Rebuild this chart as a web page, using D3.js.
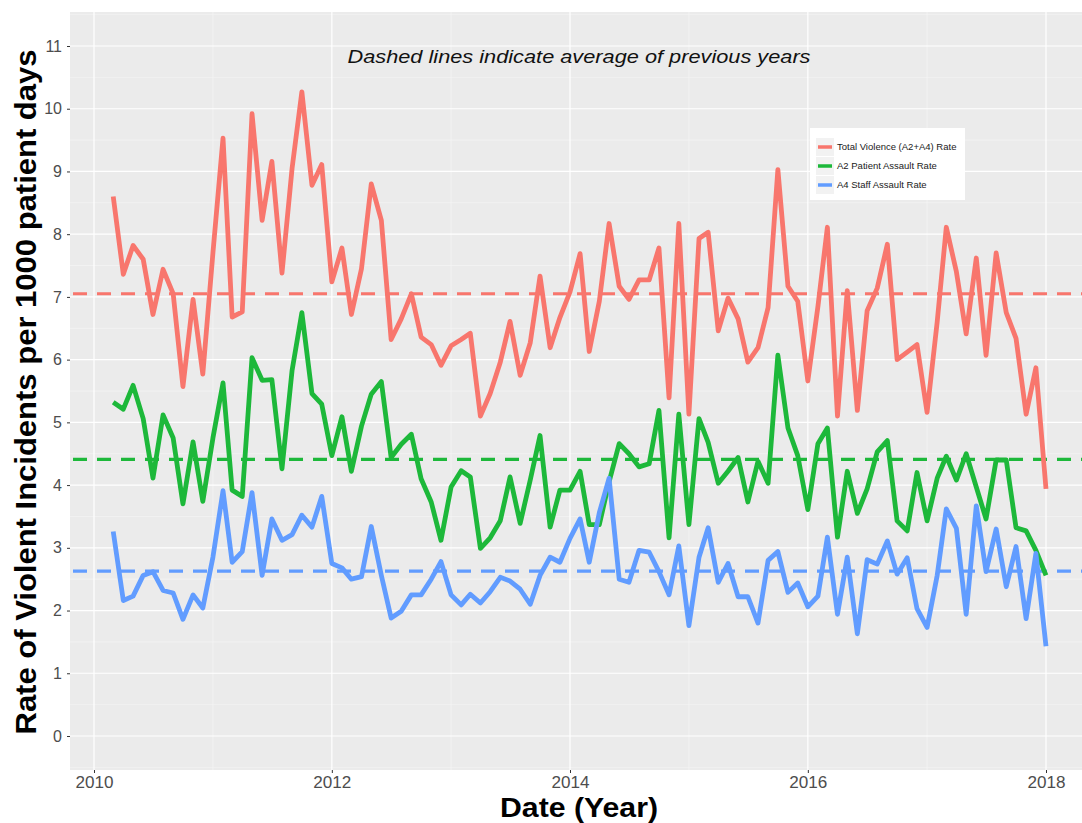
<!DOCTYPE html>
<html>
<head>
<meta charset="utf-8">
<script src="https://cdn.jsdelivr.net/npm/d3@7"></script>
<style>
  html, body { margin: 0; padding: 0; background: #ffffff; }
  svg { display: block; }
</style>
</head>
<body>
<svg id="chart" width="1082" height="823"></svg>
<script>
// ---------------- DATA ----------------
// Monthly observations, March 2010 .. January 2018
const firstMonth = "2010-03-01";
const lastMonth = "2018-01-01";

const totalRate = [
  8.60, 7.36, 7.82, 7.60, 6.72, 7.44, 7.05, 5.57, 6.96, 5.77,             // 2010 Mar-Dec
  7.70, 9.53, 6.68, 6.76, 9.92, 8.22, 9.16, 7.38, 9.05, 10.27, 8.78, 9.11, // 2011
  7.24, 7.78, 6.72, 7.45, 8.80, 8.22, 6.32, 6.65, 7.05, 6.36, 6.24, 5.91,  // 2012
  6.22, 6.32, 6.42, 5.10, 5.46, 5.96, 6.61, 5.75, 6.27, 7.33, 6.19, 6.67,  // 2013
  7.08, 7.69, 6.13, 6.93, 8.17, 7.17, 6.96, 7.27, 7.27, 7.78, 5.39, 8.17,  // 2014
  5.13, 7.93, 8.03, 6.46, 6.98, 6.65, 5.96, 6.19, 6.83, 9.03, 7.17, 6.93,  // 2015
  5.66, 6.85, 8.11, 5.10, 7.10, 5.19, 6.78, 7.14, 7.84, 6.00, 6.12, 6.24,  // 2016
  5.16, 6.60, 8.11, 7.40, 6.41, 7.62, 6.07, 7.70, 6.75, 6.34, 5.13, 5.87,  // 2017
  3.94                                                                     // 2018 Jan
];

const patientAssaultRate = [
  5.32, 5.21, 5.59, 5.06, 4.11, 5.12, 4.75, 3.70, 4.69, 3.74,
  4.75, 5.63, 3.92, 3.82, 6.03, 5.67, 5.68, 4.26, 5.83, 6.75, 5.46, 5.29,
  4.47, 5.09, 4.22, 4.94, 5.45, 5.65, 4.44, 4.65, 4.81, 4.10, 3.73, 3.12,
  3.97, 4.23, 4.13, 2.99, 3.16, 3.43, 4.13, 3.39, 4.08, 4.79, 3.33, 3.92,
  3.92, 4.22, 3.37, 3.37, 4.05, 4.66, 4.50, 4.29, 4.34, 5.19, 3.16, 5.13,
  3.37, 5.06, 4.68, 4.03, 4.22, 4.44, 3.73, 4.38, 4.03, 6.07, 4.91, 4.47,
  3.61, 4.66, 4.91, 3.17, 4.22, 3.55, 3.94, 4.53, 4.71, 3.43, 3.27, 4.20,
  3.43, 4.11, 4.46, 4.08, 4.50, 3.97, 3.46, 4.40, 4.40, 3.32, 3.27, 2.96,
  2.56
];

const staffAssaultRate = [
  3.26, 2.16, 2.23, 2.56, 2.62, 2.32, 2.28, 1.86, 2.25, 2.04,
  2.85, 3.91, 2.77, 2.94, 3.88, 2.56, 3.46, 3.12, 3.21, 3.52, 3.33, 3.82,
  2.75, 2.68, 2.50, 2.54, 3.34, 2.56, 1.88, 1.99, 2.25, 2.25, 2.50, 2.78,
  2.25, 2.09, 2.26, 2.12, 2.30, 2.53, 2.47, 2.34, 2.10, 2.56, 2.85, 2.77,
  3.15, 3.46, 2.77, 3.56, 4.11, 2.50, 2.45, 2.96, 2.93, 2.62, 2.25, 3.03,
  1.76, 2.85, 3.32, 2.45, 2.75, 2.22, 2.22, 1.80, 2.80, 2.94, 2.29, 2.44,
  2.06, 2.23, 3.17, 1.94, 2.85, 1.63, 2.81, 2.74, 3.11, 2.58, 2.84, 2.03,
  1.73, 2.56, 3.62, 3.31, 1.94, 3.67, 2.62, 3.30, 2.38, 3.02, 1.87, 2.91,
  1.43
];

// averages of previous years (dashed reference lines)
const averages = [7.05, 4.41, 2.63];

const seriesNames = [
  "Total Violence (A2+A4) Rate",
  "A2 Patient Assault Rate",
  "A4 Staff Assault Rate"
];
const seriesColors = ["#F8766D", "#1DB83A", "#619CFF"];

const xTickYears = [2010, 2012, 2014, 2016, 2018];
const xMinorYears = [2011, 2013, 2015, 2017];
const yTicks = [0, 1, 2, 3, 4, 5, 6, 7, 8, 9, 10, 11];

const annotation = "Dashed lines indicate average of previous years";
const xTitle = "Date (Year)";
const yTitle = "Rate of Violent Incidents per 1000 patient days";

// ---------------- LAYOUT ----------------
const svg = d3.select("#chart");
const panel = { left: 70, right: 1082, top: 12, bottom: 770 };

const months = d3.utcMonth.range(new Date(firstMonth + "T00:00:00Z"),
                                 d3.utcMonth.offset(new Date(lastMonth + "T00:00:00Z"), 1));

const x = d3.scaleUtc()
  .domain([new Date(Date.UTC(2010, 0, 1)), new Date(Date.UTC(2018, 0, 1))])
  .range([94, 1046]);

const y = d3.scaleLinear()
  .domain([0, 11])
  .range([736, 46]);

// panel background
svg.append("rect")
  .attr("x", panel.left).attr("y", panel.top)
  .attr("width", panel.right - panel.left).attr("height", panel.bottom - panel.top)
  .attr("fill", "#EBEBEB");

svg.append("defs").append("clipPath").attr("id", "clip")
  .append("rect")
  .attr("x", panel.left).attr("y", panel.top)
  .attr("width", panel.right - panel.left).attr("height", panel.bottom - panel.top);

const grid = svg.append("g").attr("clip-path", "url(#clip)");

// minor horizontal grid (halves)
const yMinor = d3.range(-0.5, 11.6, 1);
grid.selectAll(".yminor").data(yMinor).join("line")
  .attr("x1", panel.left).attr("x2", panel.right)
  .attr("y1", d => y(d)).attr("y2", d => y(d))
  .attr("stroke", "#F7F7F7").attr("stroke-width", 0.6);

// minor vertical grid
grid.selectAll(".xminor").data(xMinorYears).join("line")
  .attr("x1", d => x(new Date(Date.UTC(d, 0, 1))))
  .attr("x2", d => x(new Date(Date.UTC(d, 0, 1))))
  .attr("y1", panel.top).attr("y2", panel.bottom)
  .attr("stroke", "#F7F7F7").attr("stroke-width", 0.6);

// major grid
grid.selectAll(".ymajor").data(yTicks).join("line")
  .attr("x1", panel.left).attr("x2", panel.right)
  .attr("y1", d => y(d)).attr("y2", d => y(d))
  .attr("stroke", "#FFFFFF").attr("stroke-width", 1.2);

grid.selectAll(".xmajor").data(xTickYears).join("line")
  .attr("x1", d => x(new Date(Date.UTC(d, 0, 1))))
  .attr("x2", d => x(new Date(Date.UTC(d, 0, 1))))
  .attr("y1", panel.top).attr("y2", panel.bottom)
  .attr("stroke", "#FFFFFF").attr("stroke-width", 1.2);

// ---------------- AXES ----------------
const yAxis = d3.axisLeft(y).tickValues(yTicks).tickSize(3).tickPadding(5).tickFormat(d3.format("d"));
const gy = svg.append("g").attr("transform", `translate(${panel.left},0)`).call(yAxis);
gy.select(".domain").remove();
gy.selectAll(".tick line").attr("stroke", "#333333").attr("stroke-width", 1);
gy.selectAll(".tick text")
  .attr("fill", "#4D4D4D")
  .style("font-family", "'Liberation Sans', Arial, sans-serif")
  .style("font-size", "16px");

const xAxis = d3.axisBottom(x)
  .tickValues(xTickYears.map(yr => new Date(Date.UTC(yr, 0, 1))))
  .tickSize(3).tickPadding(4)
  .tickFormat(d3.utcFormat("%Y"));
const gx = svg.append("g").attr("transform", `translate(0,${panel.bottom})`).call(xAxis);
gx.select(".domain").remove();
gx.selectAll(".tick line").attr("stroke", "#333333").attr("stroke-width", 1);
gx.selectAll(".tick text")
  .attr("fill", "#4D4D4D")
  .attr("y", 18)
  .attr("dy", 0)
  .attr("textLength", 38).attr("lengthAdjust", "spacingAndGlyphs")
  .style("font-family", "'Liberation Sans', Arial, sans-serif")
  .style("font-size", "16px");

// ---------------- MARKS ----------------
const plot = svg.append("g").attr("clip-path", "url(#clip)");
const allSeries = [totalRate, patientAssaultRate, staffAssaultRate];

// dashed average lines
plot.selectAll(".avg").data(averages).join("line")
  .attr("x1", panel.left).attr("x2", panel.right)
  .attr("y1", d => y(d)).attr("y2", d => y(d))
  .attr("stroke", (d, i) => seriesColors[i])
  .attr("stroke-width", 3.2)
  .attr("stroke-dasharray", "14,10")
  .attr("stroke-dashoffset", -3);

const line = d3.line()
  .x((d, i) => x(months[i]))
  .y(d => y(d));

plot.selectAll(".series").data(allSeries).join("path")
  .attr("d", d => line(d))
  .attr("fill", "none")
  .attr("stroke", (d, i) => seriesColors[i])
  .attr("stroke-width", 4.8)
  .attr("stroke-linejoin", "round");

// ---------------- TEXT ----------------
svg.append("text")
  .attr("x", 579).attr("y", 63)
  .attr("text-anchor", "middle")
  .attr("textLength", 463).attr("lengthAdjust", "spacingAndGlyphs")
  .style("font-family", "'Liberation Sans', Arial, sans-serif")
  .style("font-style", "italic")
  .style("font-size", "19px")
  .attr("fill", "#111111")
  .text(annotation);

svg.append("text")
  .attr("x", 579).attr("y", 817)
  .attr("text-anchor", "middle")
  .attr("textLength", 158).attr("lengthAdjust", "spacingAndGlyphs")
  .style("font-family", "'Liberation Sans', Arial, sans-serif")
  .style("font-weight", "bold")
  .style("font-size", "28px")
  .attr("fill", "#000000")
  .text(xTitle);

svg.append("text")
  .attr("transform", "translate(36,392) rotate(-90)")
  .attr("text-anchor", "middle")
  .attr("textLength", 685).attr("lengthAdjust", "spacingAndGlyphs")
  .style("font-family", "'Liberation Sans', Arial, sans-serif")
  .style("font-weight", "bold")
  .style("font-size", "29px")
  .attr("fill", "#000000")
  .text(yTitle);

// ---------------- LEGEND ----------------
const legend = svg.append("g").attr("transform", "translate(810,128)");
legend.append("rect")
  .attr("width", 155).attr("height", 72)
  .attr("fill", "#FFFFFF");
const items = legend.selectAll(".item").data(seriesNames).join("g")
  .attr("transform", (d, i) => `translate(6,${10 + i * 19})`);
items.append("rect")
  .attr("width", 18).attr("height", 18)
  .attr("fill", "#F2F2F2");
items.append("line")
  .attr("x1", 2).attr("x2", 16)
  .attr("y1", 9).attr("y2", 9)
  .attr("stroke", (d, i) => seriesColors[i])
  .attr("stroke-width", 3.5);
items.append("text")
  .attr("x", 21).attr("y", 9).attr("dy", "0.35em")
  .style("font-family", "'Liberation Sans', Arial, sans-serif")
  .style("font-size", "9.5px")
  .attr("fill", "#1A1A1A")
  .text(d => d);
</script>
</body>
</html>
